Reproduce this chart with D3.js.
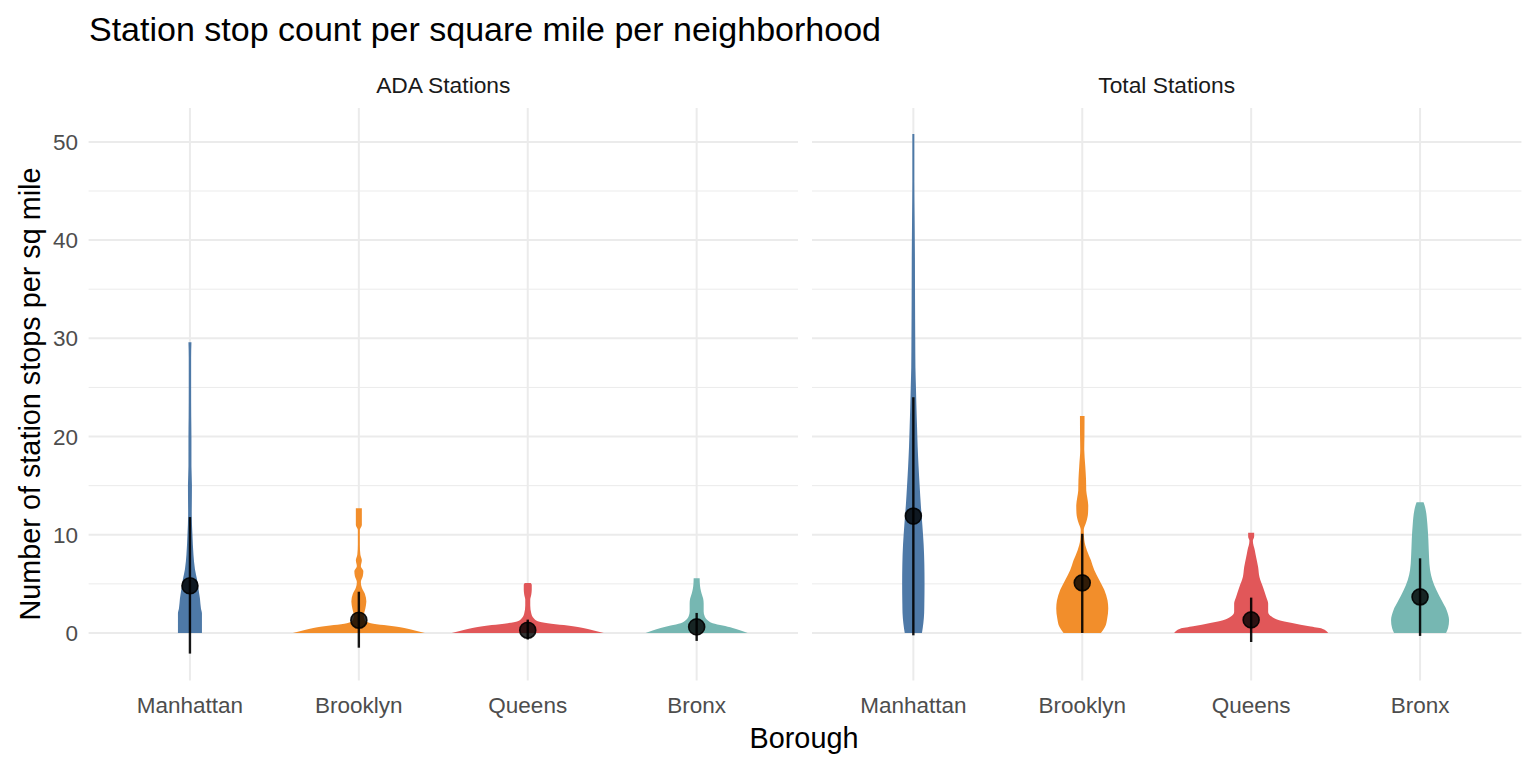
<!DOCTYPE html>
<html><head><meta charset="utf-8">
<script src="https://cdn.jsdelivr.net/npm/d3@7"></script>
<style>body{margin:0;background:#fff}svg{display:block}text{font-family:"Liberation Sans",Arial,sans-serif}</style>
</head><body><svg id="c" width="1536" height="768"></svg>
<script>
const title = "Station stop count per square mile per neighborhood";
const panels = ["ADA Stations", "Total Stations"];
const boroughs = ["Manhattan", "Brooklyn", "Queens", "Bronx"];
const colors = ["#4E79A7", "#F28E2B", "#E15759", "#76B7B2"];
const yTicks = [0, 10, 20, 30, 40, 50];
const yMinor = [5, 15, 25, 35, 45];
const xTitle = "Borough";
const yTitle = "Number of station stops per sq mile";

// violin profiles: [value, relative density width]
const adaManhattan = [[0,12],[1,12],[2,12],[2.5,11],[3.5,10],[4.5,8.5],[5.5,7],[6.5,5],[8,3.5],[10,2.5],[12,1.8],[15,2],[17,1.5],[20,1.5],[22,1.3],[25,1.2],[28,1.2],[29.6,1.5]];
const adaBrooklyn = [[0,66],[0.2,58],[0.4,50],[0.6,40],[0.8,25],[1.0,12],[1.3,6],[1.8,5],[2.5,6.5],[3.2,7.5],[4.0,6],[4.6,3],[5.2,2],[5.8,4],[6.3,4.5],[6.8,2],[7.4,3],[8.0,1.5],[9,1],[10.5,1],[11,3],[12,3],[12.7,3]];
const adaQueens = [[0,76],[0.2,68],[0.4,60],[0.6,50],[0.8,36],[1.0,20],[1.2,10],[1.5,6],[2.0,3.5],[2.8,2.5],[3.4,2.5],[3.9,3.5],[4.4,4],[4.9,4],[5.1,3]];
const adaBronx = [[0,51],[0.25,44],[0.5,36],[0.75,26],[1.0,16],[1.3,11],[1.7,8],[2.2,7],[3.0,7],[3.5,6.5],[4.0,5],[4.5,3.8],[5.0,3.2],[5.57,3]];
const totalManhattan = [[0,8.6],[1,10],[2,10.8],[3,11],[5,11.2],[7,11],[9,10.3],[11,9],[13,7.5],[15,6.3],[17,5.2],[19,4.3],[21,3.7],[23,3.1],[25,2.6],[27,2.1],[30,1.9],[34,1.7],[38,1.6],[42,1.3],[46,1.0],[50.8,1.0]];
const totalBrooklyn = [[0,18.7],[0.6,22.7],[1.5,25],[2.5,26],[3.3,25.3],[4.4,22],[5.4,17],[6.4,12],[7.4,8.7],[8.4,4.7],[9.5,2],[10.5,1.5],[11.3,4],[12.2,5.8],[13,6],[13.8,5],[14.5,4],[15.6,3.8],[17,3],[18.7,2],[20,2.2],[22.1,2.3]];
const totalQueens = [[0,77],[0.44,71],[0.68,58],[1.02,41],[1.22,31],[1.63,21],[2.14,17],[3.0,17],[3.7,15],[4.7,11.7],[5.7,8.3],[6.7,7],[7.7,5],[8.4,3.7],[9.4,1.7],[9.8,3],[10.2,3]];
const totalBronx = [[0,26],[0.5,28],[1.3,29],[2.3,26.7],[3.3,21.7],[4.3,16.7],[5.4,12.3],[6.4,10],[7.7,9],[9.5,8.3],[11.1,7.3],[12.5,5.7],[13.0,4.5],[13.3,3.5]];

// summary: mean and lower / upper of the range
const adaMean = [4.8, 1.3, 0.28, 0.62];
const adaLow = [-2.1, -1.5, -0.67, -0.81];
const adaHigh = [11.8, 4.2, 1.36, 2.04];
const totalMean = [11.9, 5.1, 1.33, 3.67];
const totalLow = [-0.24, 0.0, -0.92, -0.3];
const totalHigh = [24.0, 10.1, 3.6, 7.6];

const violins = [[adaManhattan, adaBrooklyn, adaQueens, adaBronx],[totalManhattan, totalBrooklyn, totalQueens, totalBronx]];
const means = [adaMean, totalMean], lows = [adaLow, totalLow], highs = [adaHigh, totalHigh];

const svg = d3.select("#c");
const panelX = [[88.6, 798], [812, 1521.4]];
const y = d3.scaleLinear().domain([-4.85, 53.45]).range([680.6, 108]);
const grid = "#EBEBEB";

svg.append("text").attr("x", 89).attr("y", 41).attr("font-size", 34).attr("fill", "#000").text(title);

panels.forEach((p, pi) => {
  const [x0, x1] = panelX[pi];
  const x = d3.scalePoint().domain(boroughs).range([x0, x1]).padding(0.6);
  const w = d3.scaleLinear().domain([0, 76]).range([0, 0.45 * x.step()]);
  const g = svg.append("g");
  g.selectAll(".mn").data(yMinor).join("line").attr("x1", x0).attr("x2", x1)
    .attr("y1", d => y(d)).attr("y2", d => y(d)).attr("stroke", grid).attr("stroke-width", 1);
  g.selectAll(".mj").data(yTicks).join("line").attr("x1", x0).attr("x2", x1)
    .attr("y1", d => y(d)).attr("y2", d => y(d)).attr("stroke", grid).attr("stroke-width", 2);
  g.selectAll(".vx").data(boroughs).join("line").attr("x1", d => x(d)).attr("x2", d => x(d))
    .attr("y1", y.range()[0]).attr("y2", y.range()[1]).attr("stroke", grid).attr("stroke-width", 2);
  svg.append("text").attr("x", (x0 + x1) / 2).attr("y", 93).attr("text-anchor", "middle")
    .attr("font-size", 22.8).attr("fill", "#1A1A1A").text(p);
  boroughs.forEach((b, bi) => {
    const cx = x(b);
    const area = d3.area().curve(d3.curveMonotoneY)
      .y(d => y(d[0])).x0(d => cx - w(d[1])).x1(d => cx + w(d[1]));
    g.append("path").attr("d", area(violins[pi][bi])).attr("fill", colors[bi]);
  });
  boroughs.forEach((b, bi) => {
    const cx = x(b);
    g.append("line").attr("x1", cx).attr("x2", cx).attr("y1", y(lows[pi][bi])).attr("y2", y(highs[pi][bi]))
      .attr("stroke", "#000").attr("stroke-width", 2.4).attr("opacity", 0.9);
    g.append("circle").attr("cx", cx).attr("cy", y(means[pi][bi])).attr("r", 8)
      .attr("fill", "#000").attr("fill-opacity", 0.8).attr("stroke", "#000").attr("stroke-width", 1.6).attr("stroke-opacity", 0.9);
  });
  g.selectAll(".xl").data(boroughs).join("text").attr("x", d => x(d)).attr("y", 713)
    .attr("text-anchor", "middle").attr("font-size", 22.5).attr("fill", "#4D4D4D").text(d => d);
});

svg.selectAll(".yl").data(yTicks).join("text").attr("x", 78).attr("y", d => y(d) + 8)
  .attr("text-anchor", "end").attr("font-size", 22.5).attr("fill", "#4D4D4D").text(d => d);

svg.append("text").attr("x", 804).attr("y", 748).attr("text-anchor", "middle").attr("font-size", 28.8).attr("fill", "#000").text(xTitle);
svg.append("text").attr("transform", "translate(40,394) rotate(-90)").attr("text-anchor", "middle")
  .attr("font-size", 28.8).attr("fill", "#000").text(yTitle);
</script></body></html>
